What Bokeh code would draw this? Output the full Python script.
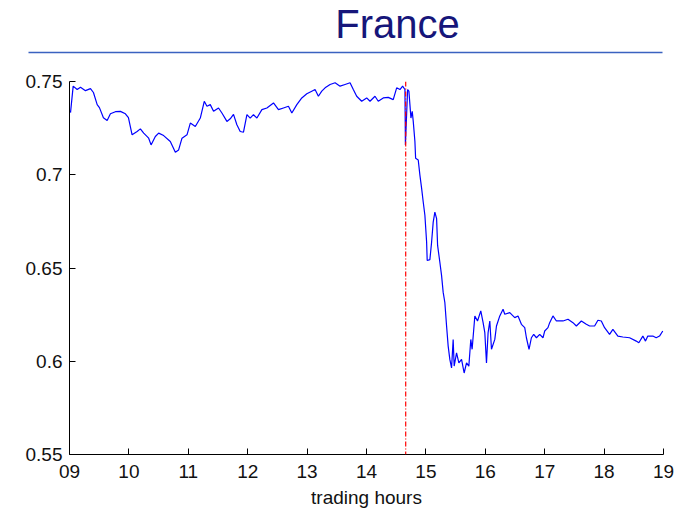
from bokeh.plotting import figure
from bokeh.models import Range1d, FixedTicker, Span
from bokeh.embed import file_html
from bokeh.resources import INLINE
from bokeh.core.properties import value

# ---------------- data ----------------
title_text = "France"
x_label = "trading hours"
x_ticks = [9, 10, 11, 12, 13, 14, 15, 16, 17, 18, 19]
x_tick_labels = ["09", "10", "11", "12", "13", "14", "15", "16", "17", "18", "19"]
y_ticks = [0.55, 0.6, 0.65, 0.7, 0.75]
y_tick_labels = ["0.55", "0.6", "0.65", "0.7", "0.75"]
event_time = 14.66

hours = [
    9.017, 9.062, 9.129, 9.185, 9.269, 9.353, 9.403, 9.466, 9.504, 9.571,
    9.634, 9.689, 9.773, 9.857, 9.941, 9.992, 10.054, 10.138, 10.193, 10.249,
    10.333, 10.373, 10.445, 10.501, 10.585, 10.697, 10.782, 10.837, 10.894, 10.978,
    11.034, 11.118, 11.202, 11.269, 11.314, 11.370, 11.425, 11.509, 11.566, 11.650,
    11.706, 11.761, 11.818, 11.874, 11.929, 11.987, 12.042, 12.097, 12.155, 12.239,
    12.323, 12.434, 12.518, 12.602, 12.686, 12.743, 12.827, 12.911, 12.995, 13.079,
    13.134, 13.190, 13.247, 13.303, 13.387, 13.471, 13.555, 13.639, 13.723, 13.778,
    13.835, 13.919, 14.003, 14.059, 14.143, 14.198, 14.282, 14.366, 14.450, 14.508,
    14.563, 14.608, 14.647, 14.655, 14.692, 14.714, 14.731, 14.748, 14.770, 14.787,
    14.815, 14.827, 14.871, 14.899, 14.928, 14.955, 14.983, 15.012, 15.022, 15.067,
    15.096, 15.123, 15.151, 15.180, 15.197, 15.235, 15.264, 15.291, 15.319, 15.348,
    15.375, 15.403, 15.432, 15.459, 15.476, 15.516, 15.555, 15.600, 15.644, 15.684,
    15.723, 15.756, 15.778, 15.824, 15.869, 15.924, 15.963, 15.992, 16.020, 16.047,
    16.076, 16.104, 16.160, 16.188, 16.244, 16.299, 16.328, 16.412, 16.496, 16.551,
    16.608, 16.664, 16.692, 16.736, 16.776, 16.815, 16.861, 16.916, 16.971, 17.000,
    17.055, 17.084, 17.139, 17.197, 17.308, 17.392, 17.476, 17.533, 17.617, 17.701,
    17.756, 17.840, 17.896, 17.953, 18.008, 18.092, 18.148, 18.232, 18.316, 18.429,
    18.541, 18.585, 18.652, 18.697, 18.736, 18.820, 18.877, 18.933, 18.988,
]

values = [
    0.7333, 0.7475, 0.7457, 0.7469, 0.7451, 0.7462, 0.7441, 0.7376, 0.7360, 0.7306,
    0.7291, 0.7327, 0.7338, 0.7340, 0.7327, 0.7306, 0.7214, 0.7232, 0.7246, 0.7223,
    0.7196, 0.7160, 0.7205, 0.7223, 0.7210, 0.7178, 0.7121, 0.7133, 0.7196, 0.7214,
    0.7277, 0.7259, 0.7304, 0.7394, 0.7367, 0.7376, 0.7340, 0.7358, 0.7331, 0.7286,
    0.7300, 0.7324, 0.7268, 0.7232, 0.7228, 0.7322, 0.7304, 0.7322, 0.7304, 0.7349,
    0.7358, 0.7385, 0.7349, 0.7358, 0.7367, 0.7331, 0.7376, 0.7412, 0.7434, 0.7448,
    0.7457, 0.7421, 0.7448, 0.7466, 0.7484, 0.7493, 0.7475, 0.7484, 0.7493, 0.7457,
    0.7421, 0.7394, 0.7412, 0.7394, 0.7421, 0.7394, 0.7412, 0.7415, 0.7403, 0.7466,
    0.7457, 0.7475, 0.7457, 0.7160, 0.7457, 0.7448, 0.7376, 0.7304, 0.7340, 0.7286,
    0.7178, 0.7088, 0.7079, 0.6998, 0.6927, 0.6854, 0.6783, 0.6639, 0.6540, 0.6545,
    0.6639, 0.6746, 0.6800, 0.6765, 0.6621, 0.6531, 0.6459, 0.6369, 0.6315, 0.6189,
    0.6081, 0.6010, 0.5964, 0.6117, 0.5974, 0.6045, 0.5991, 0.6010, 0.5937, 0.5991,
    0.5974, 0.6117, 0.6064, 0.6243, 0.6216, 0.6270, 0.6207, 0.6153, 0.5991, 0.6153,
    0.6216, 0.6064, 0.6117, 0.6189, 0.6243, 0.6279, 0.6252, 0.6261, 0.6234, 0.6243,
    0.6198, 0.6180, 0.6126, 0.6064, 0.6126, 0.6144, 0.6126, 0.6144, 0.6126, 0.6162,
    0.6180, 0.6207, 0.6243, 0.6216, 0.6216, 0.6225, 0.6207, 0.6189, 0.6216, 0.6198,
    0.6189, 0.6189, 0.6220, 0.6216, 0.6180, 0.6144, 0.6171, 0.6135, 0.6130, 0.6126,
    0.6108, 0.6099, 0.6135, 0.6108, 0.6135, 0.6135, 0.6126, 0.6135, 0.6162,
]
assert len(hours) == len(values)

FONT = "Liberation Sans"
W = 683
HEAD_H = 56

# ---------------- header (title + rule) ----------------
head = figure(width=W, height=HEAD_H, x_range=Range1d(0, W), y_range=Range1d(HEAD_H, 0),
              output_backend="svg", toolbar_location=None, min_border=0,
              x_axis_type=None, y_axis_type=None)
head.outline_line_color = None
head.text(x=[397], y=[23], text=[title_text], text_align="center",
          text_baseline="middle", text_font=value(FONT),
          text_font_size="40px", text_color="#16167a")
head.segment(x0=[28], y0=[52], x1=[662], y1=[52],
             line_color="#3a62c0", line_width=1.6)

# ---------------- main plot ----------------
p = figure(width=W, height=456, x_range=Range1d(9, 19), y_range=Range1d(0.55, 0.75),
           output_backend="svg", toolbar_location=None,
           min_border_left=69, min_border_right=20, min_border_top=25, min_border_bottom=58)
p.outline_line_color = None
p.grid.visible = False

p.line(hours, values, line_color="#0000ff", line_width=1.2)
p.add_layout(Span(location=event_time, dimension="height", line_color="#ff0000",
                  line_width=1.2, line_dash="5 2 1 2"))

for ax in (p.xaxis[0], p.yaxis[0]):
    ax.axis_line_color = "black"
    ax.axis_line_width = 1
    ax.major_tick_line_color = "black"
    ax.major_tick_in = 6
    ax.major_tick_out = 0
    ax.minor_tick_in = 0
    ax.minor_tick_out = 0
    ax.major_label_text_font = FONT
    ax.major_label_text_font_size = "19px"
    ax.major_label_text_color = "#111111"

p.xaxis.ticker = FixedTicker(ticks=x_ticks)
p.xaxis.major_label_overrides = {t: l for t, l in zip(x_ticks, x_tick_labels)}
p.xaxis.major_label_standoff = 10
p.xaxis.axis_label = x_label
p.xaxis.axis_label_text_font = FONT
p.xaxis.axis_label_text_font_size = "19px"
p.xaxis.axis_label_text_font_style = "normal"
p.xaxis.axis_label_text_color = "#111111"
p.xaxis.axis_label_standoff = 6

p.yaxis.ticker = FixedTicker(ticks=y_ticks)
p.yaxis.major_label_overrides = {t: l for t, l in zip(y_ticks, y_tick_labels)}
p.yaxis.major_label_standoff = 7

open("out.html", "w").write(file_html([head, p], INLINE))
